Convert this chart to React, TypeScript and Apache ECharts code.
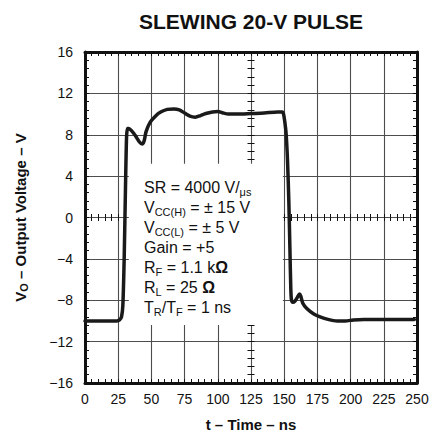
import React, { useEffect, useRef } from 'react';
import * as echarts from 'echarts';

// Output voltage trace of a 20-V slewing pulse (time in ns, volts)
const timeNs = [
  0, 24, 26, 27.5, 28.5, 29.5, 30.5, 31.3, 32, 33, 35, 38, 41, 43, 44.5, 46, 49, 53, 57, 62, 67, 71, 75,
  79, 83, 87, 91, 96, 100, 104, 108, 115, 125, 135, 145, 148.5, 149.5, 150.5, 151.5, 152.5, 153.5,
  154.3, 155, 155.5, 156.5, 158, 160, 161.5, 162.5, 164, 167, 172, 177, 183, 190, 196, 202, 210, 248,
];
const outputV = [
  -10.0, -10.0, -9.9, -9.6, -8.5, -4, 3, 7.8, 8.6, 8.6, 8.4, 7.9, 7.3, 7.1, 7.4, 8.3, 9.2, 9.8, 10.2, 10.45,
  10.5, 10.4, 10.1, 9.8, 9.7, 9.85, 10.05, 10.2, 10.25, 10.1, 10.0, 10.0, 10.05, 10.1, 10.2, 10.2, 10.0,
  9.2, 8, 5.5, 1.5, -3, -7, -8.0, -8.2, -8.1, -7.7, -7.4, -7.6, -8.3, -8.8, -9.3, -9.6, -9.85, -10.0, -10.0,
  -9.9, -9.85, -9.85,
];

// Axis ranges and tick steps
const timeRange = [0, 250];
const timeStep = 25;
const voltRange = [-16, 16];
const voltStep = 4;

// Region kept clear behind the test-condition notes (data units)
const notesBoxTime = [33, 149];
const notesBoxVolt = [-10.4, 5.2];

const FONT = '"Liberation Sans", Arial, Helvetica, sans-serif';
const GRID = { left: 85, top: 52, width: 332, height: 331 };
const INK = '#111';

const borderLine = { show: true, onZero: false, lineStyle: { color: INK, width: 3 } };
const edgeTick = { show: true, inside: true, length: 4, lineStyle: { color: INK, width: 1 } };
const edgeMinor = { show: true, splitNumber: 5, length: 4, lineStyle: { color: INK, width: 1 } };
const gridLine = { show: true, lineStyle: { color: '#4d4d4d', width: 1.1, type: 'solid' } };

const minusFmt = (v: number) => (v < 0 ? '\u2212' + Math.abs(v) : String(v));

function centerXAxis(inside: boolean) {
  return {
    type: 'value',
    position: 'bottom',
    offset: -GRID.height / 2,
    min: timeRange[0],
    max: timeRange[1],
    interval: timeStep,
    axisLine: { show: false, onZero: false },
    axisTick: { show: true, inside, length: 3.5, lineStyle: { color: INK, width: 1 } },
    minorTick: { show: true, splitNumber: 5, length: 3.5, lineStyle: { color: INK, width: 1 } },
    axisLabel: { show: false },
    splitLine: { show: false },
  };
}

function centerYAxis(inside: boolean) {
  return {
    type: 'value',
    position: 'left',
    offset: -GRID.width / 2,
    min: voltRange[0],
    max: voltRange[1],
    interval: voltStep,
    axisLine: { show: false, onZero: false },
    axisTick: { show: true, inside, length: 3.5, lineStyle: { color: INK, width: 1 } },
    minorTick: { show: true, splitNumber: 5, length: 3.5, lineStyle: { color: INK, width: 1 } },
    axisLabel: { show: false },
    splitLine: { show: false },
  };
}

const notesText = [
  'SR = 4000 V/{sub|\u03bcs}',
  'V{sub|CC(H)} = \u00b1 15 V',
  'V{sub|CC(L)} = \u00b1 5 V',
  'Gain = +5',
  'R{sub|F} = 1.1 k{b|\u03a9}',
  'R{sub|L} = 25 {b|\u03a9}',
  'T{sub|R}/T{sub|F} = 1 ns',
].join('\n');

export default function App() {
  const ref = useRef<HTMLDivElement>(null);

  useEffect(() => {
    if (!ref.current) return;
    const chart = echarts.init(ref.current, null, { renderer: 'svg' });
    const points = timeNs.map((t, i) => [t, outputV[i]]);

    chart.setOption({
      animation: false,
      backgroundColor: '#fff',
      title: {
        text: 'SLEWING 20-V PULSE',
        left: GRID.left + GRID.width / 2,
        textAlign: 'center',
        top: 11,
        padding: 0,
        textStyle: { fontFamily: FONT, fontWeight: 'bold', fontSize: 21, color: INK },
      },
      grid: { ...GRID, outerBoundsMode: 'none', containLabel: false },
      xAxis: [
        {
          type: 'value',
          position: 'bottom',
          min: timeRange[0],
          max: timeRange[1],
          interval: timeStep,
          axisLine: borderLine,
          axisTick: edgeTick,
          minorTick: edgeMinor,
          splitLine: gridLine,
          axisLabel: {
            color: INK,
            fontFamily: FONT,
            fontSize: 14,
            margin: 9,
            hideOverlap: false,
            showMinLabel: true,
            showMaxLabel: true,
          },
          name: 't \u2013 Time \u2013 ns',
          nameLocation: 'middle',
          nameGap: 34,
          nameTextStyle: { fontFamily: FONT, fontWeight: 'bold', fontSize: 15, color: INK },
        },
        {
          type: 'value',
          position: 'top',
          min: timeRange[0],
          max: timeRange[1],
          interval: timeStep,
          axisLine: borderLine,
          axisTick: edgeTick,
          minorTick: edgeMinor,
          splitLine: { show: false },
          axisLabel: { show: false },
        },
        centerXAxis(true),
        centerXAxis(false),
      ],
      yAxis: [
        {
          type: 'value',
          position: 'left',
          min: voltRange[0],
          max: voltRange[1],
          interval: voltStep,
          axisLine: borderLine,
          axisTick: edgeTick,
          minorTick: edgeMinor,
          splitLine: gridLine,
          axisLabel: {
            color: INK,
            fontFamily: FONT,
            fontSize: 14,
            margin: 12,
            formatter: minusFmt,
            hideOverlap: false,
            showMinLabel: true,
            showMaxLabel: true,
          },
          name: '{m|V}{s|O}{m| \u2013 Output Voltage \u2013 V}',
          nameLocation: 'middle',
          nameGap: 56,
          nameRotate: 90,
          nameTextStyle: {
            fontFamily: FONT,
            fontWeight: 'bold',
            fontSize: 15,
            color: INK,
            rich: {
              m: { fontFamily: FONT, fontWeight: 'bold', fontSize: 15, color: INK, lineHeight: 18 },
              s: {
                fontFamily: FONT,
                fontWeight: 'bold',
                fontSize: 11,
                color: INK,
                lineHeight: 8,
                verticalAlign: 'bottom',
              },
            },
          },
        },
        {
          type: 'value',
          position: 'right',
          min: voltRange[0],
          max: voltRange[1],
          interval: voltStep,
          axisLine: borderLine,
          axisTick: edgeTick,
          minorTick: edgeMinor,
          splitLine: { show: false },
          axisLabel: { show: false },
        },
        centerYAxis(true),
        centerYAxis(false),
      ],
      series: [
        {
          type: 'line',
          xAxisIndex: 0,
          yAxisIndex: 0,
          data: points,
          showSymbol: false,
          smooth: 0.25,
          lineStyle: { color: '#1a1a1a', width: 3.5, join: 'round', cap: 'round' },
          itemStyle: { color: '#1a1a1a' },
          markArea: {
            silent: true,
            itemStyle: { color: '#fff', borderWidth: 0 },
            data: [
              [
                { xAxis: notesBoxTime[0], yAxis: notesBoxVolt[1] },
                { xAxis: notesBoxTime[1], yAxis: notesBoxVolt[0] },
              ],
            ],
          },
        },
      ],
      graphic: [
        {
          type: 'text',
          x: 144,
          y: 177,
          z: 5,
          style: {
            text: notesText,
            fontFamily: FONT,
            fontSize: 16,
            lineHeight: 20,
            fill: INK,
            verticalAlign: 'top',
            rich: {
              sub: { fontFamily: FONT, fontSize: 11, lineHeight: 8, verticalAlign: 'bottom', fill: INK },
              b: { fontFamily: FONT, fontSize: 16, fontWeight: 'bold', lineHeight: 20, fill: INK },
            },
          },
        },
      ],
    });

    return () => chart.dispose();
  }, []);

  return (
    <div
      ref={ref}
      style={{ position: 'absolute', left: 0, top: 0, width: 433, height: 432 }}
    />
  );
}
